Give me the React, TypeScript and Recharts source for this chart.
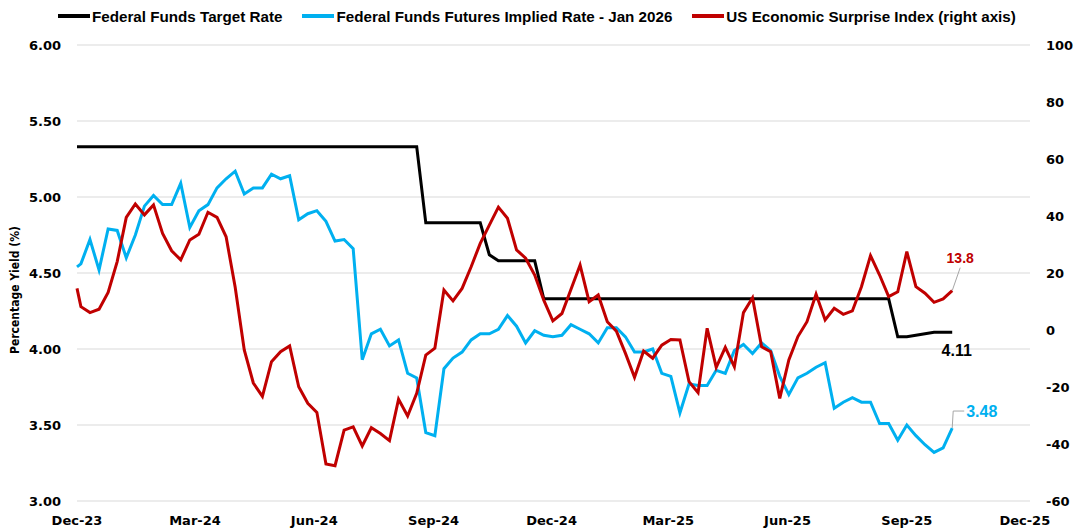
import React from 'react';
import { LineChart, Line, XAxis, YAxis, CartesianGrid, Legend, Label } from 'recharts';

// Weekly observations starting 1 Dec 2023 (index 0)
const targetRate = [
  5.33, 5.33, 5.33, 5.33, 5.33, 5.33, 5.33, 5.33, 5.33, 5.33,
  5.33, 5.33, 5.33, 5.33, 5.33, 5.33, 5.33, 5.33, 5.33, 5.33,
  5.33, 5.33, 5.33, 5.33, 5.33, 5.33, 5.33, 5.33, 5.33, 5.33,
  5.33, 5.33, 5.33, 5.33, 5.33, 5.33, 5.33, 5.33, 5.33, 4.83,
  4.83, 4.83, 4.83, 4.83, 4.83, 4.83, 4.62, 4.58, 4.58, 4.58,
  4.58, 4.58, 4.33, 4.33, 4.33, 4.33, 4.33, 4.33, 4.33, 4.33,
  4.33, 4.33, 4.33, 4.33, 4.33, 4.33, 4.33, 4.33, 4.33, 4.33,
  4.33, 4.33, 4.33, 4.33, 4.33, 4.33, 4.33, 4.33, 4.33, 4.33,
  4.33, 4.33, 4.33, 4.33, 4.33, 4.33, 4.33, 4.33, 4.33, 4.33,
  4.33, 4.08, 4.08, 4.09, 4.10, 4.11, 4.11, 4.11,
];

const futuresRate = [
  4.54, 4.56, 4.72, 4.52, 4.79, 4.78, 4.60, 4.75, 4.94, 5.01,
  4.95, 4.95, 5.09, 4.80, 4.91, 4.95, 5.06, 5.12, 5.17, 5.02,
  5.06, 5.06, 5.15, 5.12, 5.14, 4.85, 4.89, 4.91, 4.84, 4.71,
  4.72, 4.66, 3.93, 4.10, 4.13, 4.02, 4.06, 3.84, 3.81, 3.45,
  3.43, 3.87, 3.94, 3.98, 4.06, 4.10, 4.10, 4.13, 4.22, 4.15,
  4.04, 4.12, 4.09, 4.08, 4.09, 4.16, 4.13, 4.10, 4.04, 4.14,
  4.14, 4.08, 3.98, 3.98, 4.00, 3.84, 3.82, 3.58, 3.77, 3.76,
  3.76, 3.86, 3.84, 3.99, 4.03, 3.97, 4.04, 3.99, 3.82, 3.70,
  3.81, 3.84, 3.88, 3.91, 3.61, 3.65, 3.68, 3.65, 3.65, 3.51,
  3.51, 3.40, 3.50, 3.43, 3.37, 3.32, 3.35, 3.48,
];

const surpriseIndex = [
  14.6, 8.2, 6.1, 7.3, 13.2, 24.0, 39.5, 44.2, 40.4, 43.9,
  33.9, 27.8, 24.6, 31.6, 33.6, 41.3, 39.5, 32.7, 15.0, -7.0,
  -18.6, -23.3, -11.1, -7.6, -5.6, -19.9, -25.7, -28.9, -47.0, -47.6,
  -35.1, -34.0, -40.7, -34.3, -36.3, -38.8, -24.3, -30.2, -22.2, -8.8,
  -6.4, 14.0, 10.2, 14.6, 22.2, 30.4, 36.8, 43.1, 39.2, 28.1,
  25.2, 19.3, 10.5, 3.2, 5.8, 14.3, 22.8, 9.9, 12.3, 2.9,
  -0.4, -8.2, -16.6, -7.4, -9.9, -5.3, -3.3, -3.5, -18.1, -22.0,
  0.6, -13.1, -6.1, -12.9, 6.1, 11.3, -5.9, -7.6, -24.0, -10.5,
  -2.3, 2.9, 12.6, 3.5, 7.6, 5.5, 6.7, 15.2, 26.1, 19.3,
  11.7, 13.4, 27.5, 15.2, 12.9, 9.7, 10.9, 13.8,
];

// Days since 1 Dec 2023 for each observation
const dayOffsets = targetRate.map((_, i) => (i === 0 ? 0 : 3 + 7 * (i - 1)));

const xTickDays = [0, 91, 183, 275, 366, 456, 548, 640, 731];
const xTickLabels = ['Dec-23', 'Mar-24', 'Jun-24', 'Sep-24', 'Dec-24', 'Mar-25', 'Jun-25', 'Sep-25', 'Dec-25'];
const leftTicks = [3.0, 3.5, 4.0, 4.5, 5.0, 5.5, 6.0];
const rightTicks = [-60, -40, -20, 0, 20, 40, 60, 80, 100];

const seriesNames = [
  'Federal Funds Target Rate',
  'Federal Funds Futures Implied Rate - Jan 2026',
  'US Economic Surprise Index (right axis)',
];
const seriesColors = ['#000000', '#00B0F0', '#C00000'];

const data = dayOffsets.map((d, i) => ({
  day: d,
  target: targetRate[i],
  futures: futuresRate[i],
  surprise: surpriseIndex[i],
}));

const LAST = data.length - 1;
const tickFont = "'DejaVu Sans', sans-serif";
const labelFont = "'Liberation Sans', Arial, sans-serif";
const narrowFont = "'Liberation Sans Narrow', 'Arial Narrow', 'DejaVu Sans Condensed', sans-serif";

const renderLegend = () => (
  <div
    style={{
      height: 24,
      boxSizing: 'border-box',
      paddingLeft: 58,
      display: 'flex',
      justifyContent: 'flex-start',
      alignItems: 'center',
      gap: 20,
      fontFamily: labelFont,
      fontWeight: 700,
      fontSize: 15.2,
      color: '#000',
      whiteSpace: 'nowrap',
    }}
  >
    {seriesNames.map((n, i) => (
      <div key={n} style={{ display: 'flex', alignItems: 'center' }}>
        <div style={{ width: 32, height: 4, background: seriesColors[i], marginRight: 2 }} />
        <span>{n}</span>
      </div>
    ))}
  </div>
);

const targetLabel = (p: any) => {
  if (p.index !== LAST) return null;
  return (
    <text
      x={p.x + 4.5}
      y={p.y + 18}
      textAnchor="middle"
      dominantBaseline="central"
      fontFamily={labelFont}
      fontWeight={700}
      fontSize={16}
      fill="#000"
    >
      {Number(p.value).toFixed(2)}
    </text>
  );
};

const futuresLabel = (p: any) => {
  if (p.index !== LAST) return null;
  return (
    <g>
      <polyline
        points={`${p.x},${p.y} ${p.x + 1},${p.y - 17} ${p.x + 12},${p.y - 17}`}
        fill="none"
        stroke="#a6a6a6"
        strokeWidth={1}
      />
      <text
        x={p.x + 14}
        y={p.y - 17}
        textAnchor="start"
        dominantBaseline="central"
        fontFamily={labelFont}
        fontWeight={700}
        fontSize={16}
        fill="#00B0F0"
      >
        {Number(p.value).toFixed(2)}
      </text>
    </g>
  );
};

const surpriseLabel = (p: any) => {
  if (p.index !== LAST) return null;
  return (
    <g>
      <line x1={p.x} y1={p.y} x2={p.x + 8} y2={p.y - 23} stroke="#a6a6a6" strokeWidth={1} />
      <text
        x={p.x + 8}
        y={p.y - 33}
        textAnchor="middle"
        dominantBaseline="central"
        fontFamily={labelFont}
        fontWeight={700}
        fontSize={14}
        fill="#C00000"
      >
        {Number(p.value).toFixed(1)}
      </text>
    </g>
  );
};

const renderYLabel = (props: any) => {
  const vb = props.viewBox || { x: 0, y: 45, width: 77, height: 456 };
  const cx = vb.x + 15;
  const cy = vb.y + vb.height / 2 + 17;
  return (
    <text
      x={cx}
      y={cy}
      transform={`rotate(-90, ${cx}, ${cy})`}
      textAnchor="middle"
      dominantBaseline="central"
      fontFamily={narrowFont}
      fontWeight={700}
      fontSize={12}
      fill="#000"
    >
      Percentage Yield (%)
    </text>
  );
};

export default function App() {
  const tickStyle = { fill: '#000', fontSize: 13, fontWeight: 700, fontFamily: tickFont };
  return (
    <div style={{ position: 'absolute', left: 0, top: 0, width: 1074, height: 531, background: '#fff' }}>
      <LineChart width={1074} height={531} data={data} margin={{ top: 21, right: 0, bottom: 0, left: 0 }}>
        <CartesianGrid yAxisId="left" vertical={false} stroke="#d9d9d9" strokeWidth={1} />
        <XAxis
          dataKey="day"
          type="number"
          domain={[0, 735]}
          ticks={xTickDays}
          interval={0}
          tickFormatter={(v: number) => xTickLabels[xTickDays.indexOf(v)]}
          axisLine={false}
          tickLine={false}
          tickSize={15}
          tickMargin={0}
          height={30}
          tick={tickStyle}
        />
        <YAxis
          yAxisId="left"
          domain={[3, 6]}
          ticks={leftTicks}
          interval={0}
          tickFormatter={(v: number) => v.toFixed(2)}
          axisLine={false}
          tickLine={false}
          tickSize={16}
          tickMargin={0}
          width={77}
          tick={tickStyle}
        >
          <Label content={renderYLabel} />
        </YAxis>
        <YAxis
          yAxisId="right"
          orientation="right"
          domain={[-60, 100]}
          ticks={rightTicks}
          interval={0}
          axisLine={false}
          tickLine={false}
          tickSize={16}
          tickMargin={0}
          width={44}
          tick={{ ...tickStyle, textAnchor: 'start' }}
        />
        <Legend verticalAlign="top" content={renderLegend} wrapperStyle={{ top: 4, left: 0, width: 1074 }} />
        <Line
          yAxisId="left"
          dataKey="target"
          name={seriesNames[0]}
          type="linear"
          stroke={seriesColors[0]}
          strokeWidth={3}
          dot={false}
          isAnimationActive={false}
          label={targetLabel}
        />
        <Line
          yAxisId="left"
          dataKey="futures"
          name={seriesNames[1]}
          type="linear"
          stroke={seriesColors[1]}
          strokeWidth={3}
          dot={false}
          isAnimationActive={false}
          label={futuresLabel}
        />
        <Line
          yAxisId="right"
          dataKey="surprise"
          name={seriesNames[2]}
          type="linear"
          stroke={seriesColors[2]}
          strokeWidth={3}
          dot={false}
          isAnimationActive={false}
          label={surpriseLabel}
        />
      </LineChart>
    </div>
  );
}
